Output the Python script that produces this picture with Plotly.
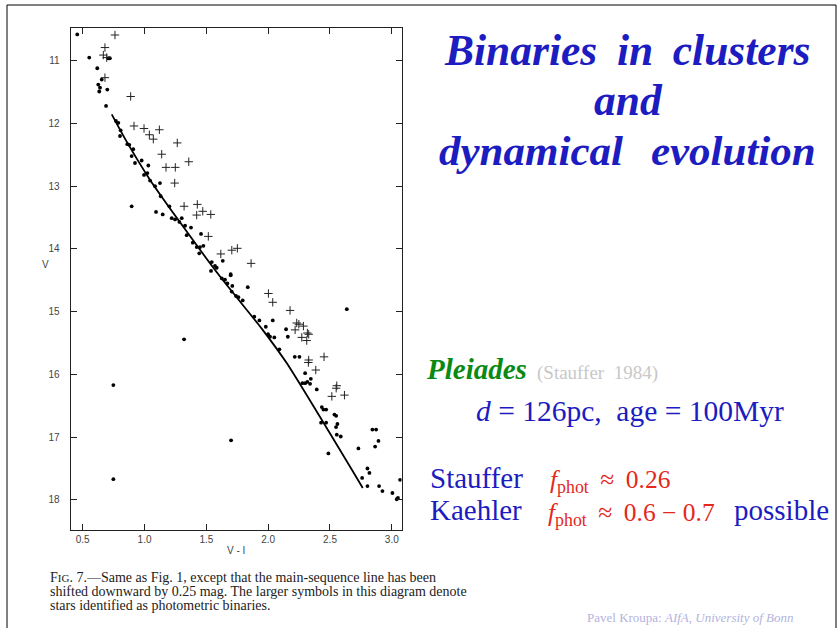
import plotly.graph_objects as go

W, H = 838, 628

# ---- data read from the scanned CMD (V-I, V) ----
dot_vi = [0.456, 0.553, 0.618, 0.654, 0.626, 0.640, 0.634, 0.699, 0.689, 0.707, 0.720,
          0.769, 0.788, 0.807, 0.802, 0.861, 0.877, 0.909, 0.896, 0.923, 0.977, 1.031, 1.023, 0.996, 1.045, 1.125, 1.085,
          0.896, 1.131, 1.093, 1.147, 1.201, 1.220, 1.247, 1.282, 1.301, 1.328, 1.376, 1.341, 1.390, 1.422, 1.449, 1.476, 1.443, 1.457,
          1.544, 1.570, 1.584, 1.538, 1.633, 1.625, 1.651, 1.697, 1.670, 1.710, 1.705, 1.835, 1.759, 1.794, 1.740,
          1.888, 1.929, 2.037, 1.981, 1.999, 2.015, 2.050, 2.145, 2.159, 2.091, 2.636,
          2.215, 2.253, 2.299, 2.277, 2.299, 2.317, 2.339, 2.345, 2.393,
          2.434, 2.447, 2.469, 2.536, 2.550, 2.428, 2.469, 2.560, 2.549, 2.555, 2.587, 2.487,
          2.730, 2.843, 2.873, 2.892, 2.865, 2.803, 2.819, 2.760, 2.803, 2.897, 2.924, 3.005, 3.040, 3.067, 3.050,
          0.748, 1.320, 1.700, 0.748, 1.697]
dot_v = [10.58, 10.95, 11.12, 11.30, 11.38, 11.43, 11.49, 11.46, 11.72, 10.96, 10.96,
         11.96, 11.99, 12.11, 12.20, 12.33, 12.34, 12.41, 12.52, 12.63, 12.59, 12.67, 12.79, 12.82, 12.91, 12.95, 13.00,
         13.32, 13.16, 13.41, 13.45, 13.32, 13.51, 13.53, 13.57, 13.51, 13.63, 13.66, 13.78, 13.90, 13.97, 13.97, 13.95, 14.07, 13.76,
         14.21, 14.27, 14.30, 14.35, 14.19, 14.47, 14.49, 14.42, 14.55, 14.59, 14.68, 14.61, 14.77, 14.82, 14.75,
         15.08, 15.14, 15.14, 15.24, 15.36, 15.40, 15.41, 15.28, 15.40, 15.60, 14.96,
         15.72, 15.72, 15.98, 16.14, 16.14, 16.12, 16.15, 16.07, 16.24,
         16.52, 16.56, 16.56, 16.64, 16.66, 16.77, 16.77, 16.79, 16.84, 16.96, 16.99, 17.26,
         17.18, 16.88, 16.88, 17.06, 17.15, 17.50, 17.57, 17.65, 17.78, 17.78, 17.86, 17.89, 17.99, 17.68, 17.97,
         16.17, 15.44, 17.05, 17.67, 14.40]

bin_vi = [0.761, 0.680, 0.667, 0.694, 0.680, 0.888, 0.915, 0.996, 1.039, 1.071, 1.120, 1.265, 1.139, 1.174, 1.249, 1.358, 1.244,
          1.320, 1.427, 1.422, 1.471, 1.536, 1.516, 1.617, 1.706, 1.751, 1.862,
          2.002, 2.037, 2.177, 2.231, 2.248, 2.285, 2.218, 2.317, 2.328, 2.272, 2.312, 2.452, 2.328, 2.325, 2.385,
          2.555, 2.550, 2.515, 2.617]
bin_v = [10.59, 10.79, 10.91, 10.95, 11.27, 11.57, 12.04, 12.08, 12.18, 12.25, 12.10, 12.31, 12.49, 12.70, 12.70, 12.61, 12.95,
         13.32, 13.29, 13.46, 13.40, 13.45, 13.80, 14.08, 14.02, 13.99, 14.23,
         14.71, 14.85, 14.98, 15.18, 15.20, 15.23, 15.29, 15.34, 15.36, 15.41, 15.46, 15.72, 15.77, 15.81, 15.93,
         16.18, 16.22, 16.35, 16.33]

ms_vi = [0.735, 0.85, 1.045, 1.274, 1.611, 1.948, 2.15, 2.765]
ms_v = [11.855, 12.27, 12.90, 13.54, 14.44, 15.27, 15.82, 17.81]

x_ticks = [0.5, 1.0, 1.5, 2.0, 2.5, 3.0]
x_ticklabels = ["0.5", "1.0", "1.5", "2.0", "2.5", "3.0"]
y_ticks = [11, 12, 13, 14, 15, 16, 17, 18]
y_ticklabels = ["11", "12", "13", "14", "15", "16", "17", "18"]

fig = go.Figure()
fig.add_trace(go.Scatter(x=ms_vi, y=ms_v, mode="lines", line=dict(color="black", width=1.8, shape="spline", smoothing=0.6),
                         hoverinfo="skip", showlegend=False))
fig.add_trace(go.Scatter(x=dot_vi, y=dot_v, mode="markers",
                         marker=dict(symbol="circle", size=3.8, color="black"), showlegend=False))
fig.add_trace(go.Scatter(x=bin_vi, y=bin_v, mode="markers",
                         marker=dict(symbol="cross-thin", size=6, line=dict(color="#222", width=1.0)), showlegend=False))

def px(x):
    return x / W

def py(y):
    return 1 - y / H

axis_common = dict(showgrid=False, zeroline=False, showline=True, linecolor="#222", linewidth=1.3,
                   mirror="allticks", ticks="inside", ticklen=6, tickcolor="#222", tickwidth=1,
                   tickfont=dict(family="Liberation Sans", size=10, color="#444"))

fig.update_layout(
    width=W, height=H, margin=dict(l=0, r=0, t=0, b=0),
    paper_bgcolor="white", plot_bgcolor="white",
    xaxis=dict(domain=[px(70.7), px(401.7)], range=[0.403, 3.08],
               tickvals=x_ticks, ticktext=x_ticklabels, **axis_common),
    yaxis=dict(domain=[py(530), py(28.3)], range=[18.48, 10.483],
               tickvals=y_ticks, ticktext=y_ticklabels, ticklabelstandoff=8, **axis_common),
    showlegend=False,
)

# slide border
fig.add_shape(type="rect", xref="paper", yref="paper", x0=px(7), x1=px(836), y0=py(640), y1=py(5),
              line=dict(color="black", width=1))

ann = []
def text(x, y, s, size, color, xanchor="center", family="Liberation Serif", yanchor="middle"):
    ann.append(dict(x=px(x), y=py(y), xref="paper", yref="paper", text=s, showarrow=False,
                    xanchor=xanchor, yanchor=yanchor, font=dict(family=family, size=size, color=color)))

NB = "\u00a0"
TH = "\u2009"
blue = "#1c1cc0"
red = "#e3281c"
text(236, 550, "V - I", 10, "#444", family="Liberation Sans")
text(45, 264, "V", 10, "#444", family="Liberation Sans")

text(627, 50, f"<b><i>Binaries{NB}{TH}in{NB}{TH}clusters</i></b>", 43.5, blue)
text(628, 100, "<b><i>and</i></b>", 43.5, blue)
text(627, 150, f"<b><i>dynamical{NB}{TH}{TH}evolution</i></b>", 43, blue)

text(424, 369, "<b><i>Pleiades</i></b>", 29, "#0b8a12", xanchor="left")
text(535, 373, f"(Stauffer{NB} 1984)", 19, "#c8c8c8", xanchor="left")
text(474, 411, f"<i>d</i> = 126pc,{NB} age = 100Myr", 29.5, blue, xanchor="left")
text(428, 478, "Stauffer", 29, blue, xanchor="left")
text(548, 481, f"<i>f</i><sub>phot</sub>{NB}{TH}≈{NB}{TH}0.26", 25.5, red, xanchor="left")
text(428, 510, "Kaehler", 29, blue, xanchor="left")
text(546, 514, f"<i>f</i><sub>phot</sub>{NB}{TH}≈{NB}{TH}0.6{NB}−{NB}0.7", 25.5, red, xanchor="left")
text(732, 510, "possible", 29, blue, xanchor="left")

cap_size = 14
text(48, 577, "F<span style='font-size:11px'>IG</span>. 7.—Same as Fig. 1, except that the main-sequence line has been", cap_size, "#222", xanchor="left")
text(48, 591, "shifted downward by 0.25 mag. The larger symbols in this diagram denote", cap_size, "#222", xanchor="left")
text(48, 605, "stars identified as photometric binaries.", cap_size, "#222", xanchor="left")

text(585, 617, "Pavel Kroupa: <i>AIfA, University of Bonn</i>", 13, "#b3b3de", xanchor="left")

fig.update_layout(annotations=ann)
fig.write_html("out.html")
